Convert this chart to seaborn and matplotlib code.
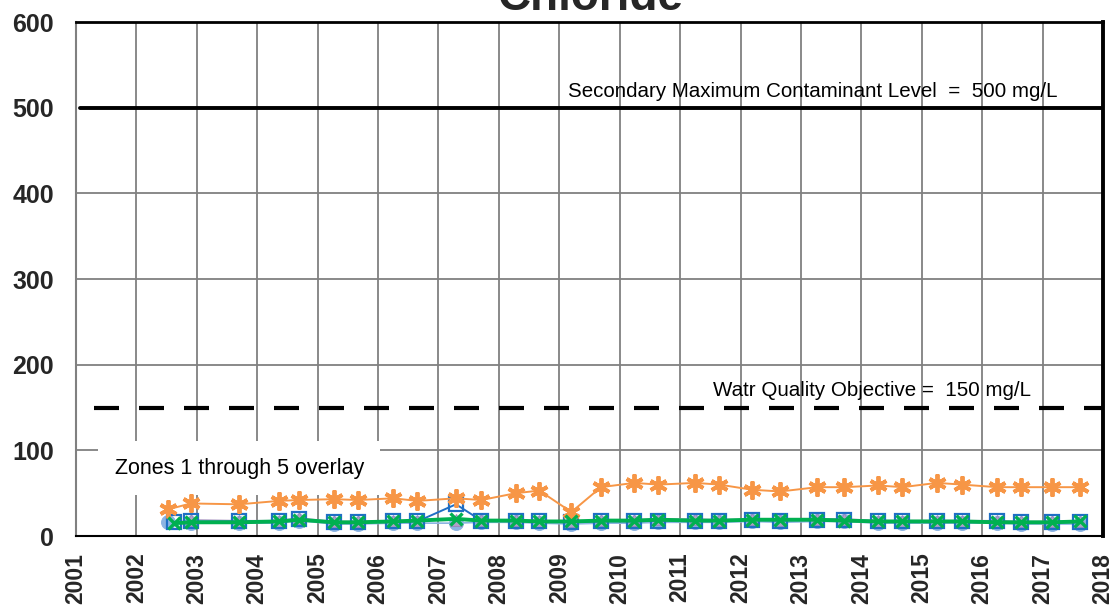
import matplotlib
matplotlib.use("Agg")
import matplotlib.pyplot as plt
import seaborn as sns
import pandas as pd

# sample dates (decimal years) and chloride values, mg/L
dates = [2002.90, 2003.70, 2004.36, 2004.69, 2005.27, 2005.67, 2006.25, 2006.65,
         2007.29, 2007.71, 2008.28, 2008.67, 2009.20, 2009.69, 2010.24, 2010.64,
         2011.25, 2011.65, 2012.19, 2012.66, 2013.27, 2013.72, 2014.28, 2014.68,
         2015.25, 2015.67, 2016.25, 2016.65, 2017.16, 2017.62]

orange_dates = [2002.52] + dates
orange_vals = [31, 38, 37, 41, 42, 43, 42, 44, 41, 44, 42, 50, 53, 28, 57, 62, 60, 62,
               60, 54, 52, 57, 57, 59, 57, 62, 60, 57, 57, 57, 57]

square_dates = [2002.63] + dates
blue_vals = [16, 17, 17, 17, 20, 16, 16, 17, 17, 37, 18, 18, 17, 16, 17, 17, 18, 18,
             18, 19, 18, 19, 19, 17, 17, 17, 17, 17, 16, 16, 16]
green_vals = [15, 16, 16, 17, 19, 16, 16, 17, 18, 20, 18, 18, 17, 17, 18, 18, 19, 18,
              18, 19, 19, 19, 18, 17, 17, 17, 17, 16, 16, 16, 17]

circle_dates = [2002.52] + dates
circle_vals = [16, 15, 15, 15, 18, 14, 14, 15, 15, 15, 16, 16, 15, 14, 15, 15, 16, 16,
               16, 17, 16, 17, 17, 15, 15, 15, 15, 15, 14, 14, 14]
tri_dates = dates
tri_vals = [19, 18, 18, 21, 17, 17, 18, 18, 19, 19, 19, 18, 17, 19, 19, 20, 20, 19,
            20, 19, 20, 20, 18, 18, 18, 18, 18, 17, 17, 18]

years = list(range(2001, 2019))
yticks = [0, 100, 200, 300, 400, 500, 600]
smcl = 500
wqo = 150

sns.set_theme(style="white")
plt.rcParams['font.family'] = ['Liberation Sans', 'DejaVu Sans']

fig = plt.figure(figsize=(11.11, 6.10), dpi=100)
ax = fig.add_axes([0.0684, 0.1213, 0.9244, 0.8426])

for y in yticks[1:-2]:
    ax.axhline(y, color='#808080', lw=1.3, zorder=0)
for x in years[1:-1]:
    ax.axvline(x, color='#808080', lw=1.3, zorder=0)

ax.axhline(smcl, color='black', lw=2.8, zorder=1, xmin=0.004)
ax.axhline(wqo, color='black', lw=3.0, ls=(0, (6.0, 4.8)), zorder=1, xmin=0.018)

sns.lineplot(x=circle_dates, y=circle_vals, ax=ax, color='#8db4e2', lw=1.2,
             marker='o', markersize=10, markeredgecolor='#8db4e2', zorder=3)
sns.lineplot(x=tri_dates, y=tri_vals, ax=ax, color='#b1a0c7', lw=1.0,
             marker='^', markersize=8, markeredgecolor='#9a8bc0', zorder=3)
sns.lineplot(x=square_dates, y=blue_vals, ax=ax, color='#1f6fc5', lw=1.4,
             marker='s', markersize=10.5, markerfacecolor='none',
             markeredgecolor='#1f6fc5', markeredgewidth=1.6, zorder=4)
sns.lineplot(x=orange_dates, y=orange_vals, ax=ax, color='#f79646', lw=1.4,
             marker=(6, 2, 0), markersize=13, markeredgecolor='#f79646',
             markeredgewidth=2.8, zorder=5)
sns.lineplot(x=square_dates, y=green_vals, ax=ax, color='#00b050', lw=2.8,
             marker='x', markersize=9, markeredgecolor='#00b050',
             markeredgewidth=2.4, zorder=6)

ax.set_xlim(2001, 2018)
ax.set_ylim(0, 600)
ax.set_xticks(years)
ax.set_xticklabels([str(y) for y in years], rotation=90, fontsize=16.5, fontweight='bold')
ax.set_yticks(yticks)
ax.set_yticklabels([str(y) for y in yticks], fontsize=18, fontweight='bold')
ax.set_yticks([550], minor=True)
ax.tick_params(axis='x', direction='out', length=6, width=1.3, color='#808080', pad=6)
ax.tick_params(axis='y', which='both', direction='in', length=5, width=1.3, color='#808080', pad=16)
ax.set_xlabel('')
ax.set_ylabel('')

ax.spines['left'].set_color('#808080')
ax.spines['left'].set_linewidth(1.5)
ax.spines['bottom'].set_color('black')
ax.spines['bottom'].set_linewidth(1.5)
ax.spines['top'].set_color('black')
ax.spines['top'].set_linewidth(2.0)
ax.spines['right'].set_color('black')
ax.spines['right'].set_linewidth(2.8)

ax.text(2017.24, 513, 'Secondary Maximum Contaminant Level  =  500 mg/L',
        fontsize=14.8, ha='right', va='baseline', color='black', zorder=7)
ax.text(2016.8, 164, 'Watr Quality Objective =  150 mg/L',
        fontsize=14.8, ha='right', va='baseline', color='black', zorder=7)
ax.text(2001.64, 79, 'Zones 1 through 5 overlay', fontsize=15.5, ha='left',
        va='center', color='black', zorder=2,
        bbox=dict(facecolor='white', edgecolor='none', pad=12))

fig.text(0.531, 1 - 10 / 610, 'Chloride', fontsize=33, fontweight='bold',
         ha='center', va='baseline')

fig.savefig('out.png', dpi=100)
